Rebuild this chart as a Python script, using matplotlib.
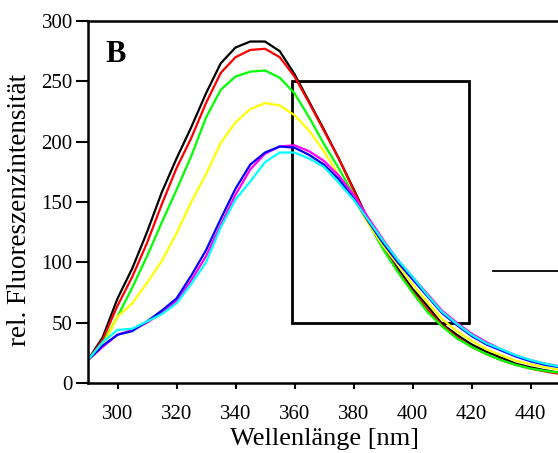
import numpy as np
import matplotlib
matplotlib.use("Agg")
import matplotlib.pyplot as plt
from matplotlib.patches import Rectangle

plt.rcParams["font.family"] = ["Liberation Serif", "DejaVu Serif"]

wavelength = list(range(290, 460, 5))

black   = [19, 38, 70, 95, 125, 158, 186, 212, 240, 265, 278, 283, 283, 275, 256, 233, 210, 186, 161, 135, 115, 95, 78, 64, 49, 40, 32, 26, 21, 16, 13, 10.5, 8.5, 7.5]
red     = [19, 36, 64, 88, 116, 148, 178, 203, 232, 257, 270, 276, 277, 270, 254, 232, 209, 186, 160, 134, 112, 93, 76, 61, 48, 38, 30, 24, 19, 15, 12, 9.5, 7.5, 6.5]
green   = [19, 33, 55, 79, 105, 133, 160, 188, 220, 243, 254, 258, 259, 253, 240, 220, 198, 178, 156, 133, 111, 92, 75, 59, 47, 37, 30, 24, 19, 15, 12, 10, 8.5, 7.5]
yellow  = [19, 31, 55, 66, 83, 101, 124, 150, 173, 199, 216, 227, 232, 230, 222, 209, 192, 172, 153, 132, 114, 98, 82, 67, 53, 43, 35, 28, 23, 18.5, 15.5, 13, 10.8, 9.5]
blue    = [19, 31, 40, 43, 51, 60, 70, 89, 110, 136, 161, 181, 191, 196, 195, 189, 181, 169, 153, 134, 116, 100, 86, 72, 58, 48, 39, 32, 27, 22, 18, 15, 13, 11.5]
magenta = [19, 30, 40, 44, 50, 58, 68, 85, 105, 131, 156, 177, 190, 196, 197, 192, 184, 172, 156, 137, 119, 102, 88, 74, 60, 50, 41, 34, 28, 23, 19, 16, 13.8, 12]
cyan    = [19, 34, 44, 45, 51, 57, 66, 82, 100, 129, 152, 167, 183, 191, 191, 186, 179, 166, 152, 135, 118, 102, 88, 73, 59, 49, 40, 33, 28, 23, 19, 16, 13.5, 12]

series = [
    (black, "black"),
    (red, "red"),
    (green, "#00ff00"),
    (yellow, "#ffff00"),
    (magenta, "#ff00ff"),
    (blue, "#0000ff"),
    (cyan, "#00ffff"),
]

fig = plt.figure(figsize=(5.58, 4.53), dpi=100)
ax = fig.add_axes([88 / 558, 70 / 453, 472 / 558, 362 / 453])

for vals, col in series:
    ax.plot(wavelength, vals, color=col, lw=1.6)

# zoom box and pointer line
ax.add_patch(Rectangle((359.3, 50), 60, 200, fill=False, ec="black", lw=2))
ax.plot([427.3, 460], [93, 93], color="black", lw=1.3, clip_on=False)

ax.text(295.8, 266, "B", fontsize=22, fontweight="bold", va="baseline")

ax.set_xlim(290, 450)
ax.set_ylim(0, 300)
ax.set_xticks(range(300, 460, 20))
ax.set_yticks(range(0, 301, 50))
ax.tick_params(axis="both", direction="out", labelsize=15, width=1.5)
ax.tick_params(axis="x", length=4, pad=12)
ax.tick_params(axis="y", length=9, pad=2)
for s in ax.spines.values():
    s.set_linewidth(1.8)

ax.set_xlabel("Wellenlänge [nm]", fontsize=19, labelpad=3)
ax.set_ylabel("rel. Fluoreszenzintensität", fontsize=19.5)
ax.yaxis.set_label_coords(-0.119, 0.478)

fig.savefig("out.png", dpi=100)
